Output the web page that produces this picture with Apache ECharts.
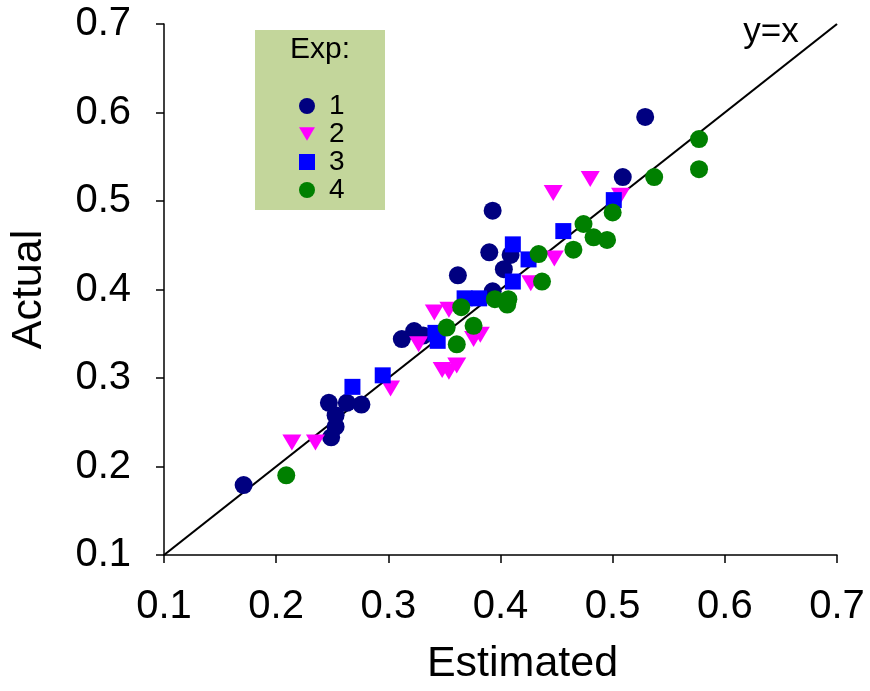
<!DOCTYPE html>
<html>
<head>
<meta charset="utf-8">
<script src="https://cdn.jsdelivr.net/npm/echarts@6/dist/echarts.min.js"></script>
<style>html,body{margin:0;padding:0;background:#fff}#c{width:870px;height:691px}</style>
</head>
<body>
<div id="c"></div>
<script>
// Axis ticks
var xTicks = [0.1, 0.2, 0.3, 0.4, 0.5, 0.6, 0.7];
var yTicks = [0.1, 0.2, 0.3, 0.4, 0.5, 0.6, 0.7];
var legendNames = ['1', '2', '3', '4'];
// y = x reference line end points
var refLine = [[0.1, 0.1], [0.7, 0.7]];
// Experiment 1 [estimated, actual]
var exp1 = [
  [0.171,0.179],
  [0.247,0.272],[0.253,0.258],[0.253,0.245],[0.249,0.233],[0.263,0.272],[0.276,0.270],
  [0.312,0.344],[0.323,0.353],[0.331,0.348],
  [0.362,0.416],[0.390,0.442],[0.393,0.489],[0.393,0.398],[0.403,0.423],[0.409,0.439],
  [0.509,0.527],[0.529,0.595]
];
// Experiment 2
var exp2 = [
  [0.214,0.227],[0.235,0.227],[0.302,0.288],[0.327,0.338],[0.341,0.374],[0.354,0.377],
  [0.348,0.309],[0.354,0.307],[0.361,0.314],[0.376,0.344],[0.382,0.349],[0.427,0.407],
  [0.448,0.435],[0.447,0.509],[0.480,0.525],[0.507,0.506]
];
// Experiment 3
var exp3 = [
  [0.268,0.290],[0.295,0.303],[0.342,0.351],[0.344,0.342],[0.368,0.390],[0.381,0.390],
  [0.411,0.409],[0.411,0.451],[0.425,0.434],[0.456,0.466],[0.501,0.501]
];
// Experiment 4
var exp4 = [
  [0.209,0.190],[0.352,0.357],[0.361,0.338],[0.365,0.380],[0.376,0.359],[0.395,0.389],
  [0.407,0.389],[0.406,0.383],[0.437,0.409],[0.434,0.440],[0.465,0.445],[0.474,0.474],
  [0.483,0.459],[0.495,0.456],[0.500,0.487],[0.537,0.527],[0.577,0.570],[0.577,0.536]
];

var FONT = '"Liberation Sans", Arial, sans-serif';
var chart = echarts.init(document.getElementById('c'), null, {renderer: 'canvas'});
var axisCommon = {
  type: 'value', min: xTicks[0], max: xTicks[xTicks.length - 1], interval: 0.1,
  axisLine: {show: true, lineStyle: {color: '#000', width: 1.5}},
  axisTick: {show: true, inside: false, length: 8, lineStyle: {color: '#000', width: 1.5}},
  splitLine: {show: false},
  nameLocation: 'middle'
};
var triDown = 'path://M0,0 L20,0 L10,17 Z';
var sq = 'path://M0,0 L10,0 L10,10 L0,10 Z';
chart.setOption({
  animation: false,
  backgroundColor: '#fff',
  grid: {left: 163, right: 33, top: 24, bottom: 129, containLabel: false},
  xAxis: Object.assign({}, axisCommon, {
    name: 'Estimated', nameGap: 88,
    nameTextStyle: {fontFamily: FONT, fontSize: 43, color: '#000', padding: [0, 0, 0, 44]},
    axisLabel: {margin: 32, fontFamily: FONT, fontSize: 40, color: '#000',
      formatter: function (v) { return v.toFixed(1); }}
  }),
  yAxis: Object.assign({}, axisCommon, {
    min: yTicks[0], max: yTicks[yTicks.length - 1],
    name: 'Actual', nameGap: 113,
    nameTextStyle: {fontFamily: FONT, fontSize: 43, color: '#000'},
    axisLabel: {margin: 33, fontFamily: FONT, fontSize: 40, color: '#000',
      formatter: function (v) { return v.toFixed(1); }}
  }),
  legend: {
    data: [
      {name: legendNames[0], icon: 'circle'},
      {name: legendNames[1], icon: triDown},
      {name: legendNames[2], icon: sq},
      {name: legendNames[3], icon: 'circle'}
    ],
    orient: 'vertical', left: 294, top: 87,
    itemWidth: 16, itemHeight: 16, itemGap: 0, z: 10,
    textStyle: {fontFamily: FONT, fontSize: 28, lineHeight: 27, color: '#000', padding: [0, 0, 0, 9]}
  },
  graphic: [
    {type: 'rect', shape: {x: 255, y: 30, width: 130, height: 180}, style: {fill: '#c3d69b'}, z: 1, silent: true},
    {type: 'text', x: 320, y: 50, z: 2, style: {text: 'Exp:', font: '30px ' + FONT, fill: '#000', textAlign: 'center', textVerticalAlign: 'middle'}},
    {type: 'text', x: 771, y: 32, z: 2, style: {text: 'y=x', font: '35px ' + FONT, fill: '#000', textAlign: 'center', textVerticalAlign: 'middle'}}
  ],
  series: [
    {type: 'line', data: refLine, symbol: 'none', silent: true, lineStyle: {color: '#000', width: 2.2}, z: 1},
    {name: legendNames[0], type: 'scatter', data: exp1, symbol: 'circle', symbolSize: 18, itemStyle: {color: '#000080', opacity: 1}},
    {name: legendNames[1], type: 'scatter', data: exp2, symbol: triDown, symbolSize: [19, 16], itemStyle: {color: '#ff00ff', opacity: 1}},
    {name: legendNames[2], type: 'scatter', data: exp3, symbol: 'rect', symbolSize: 16, itemStyle: {color: '#0000ff', opacity: 1}},
    {name: legendNames[3], type: 'scatter', data: exp4, symbol: 'circle', symbolSize: 18, itemStyle: {color: '#008000', opacity: 1}}
  ]
});
</script>
</body>
</html>
